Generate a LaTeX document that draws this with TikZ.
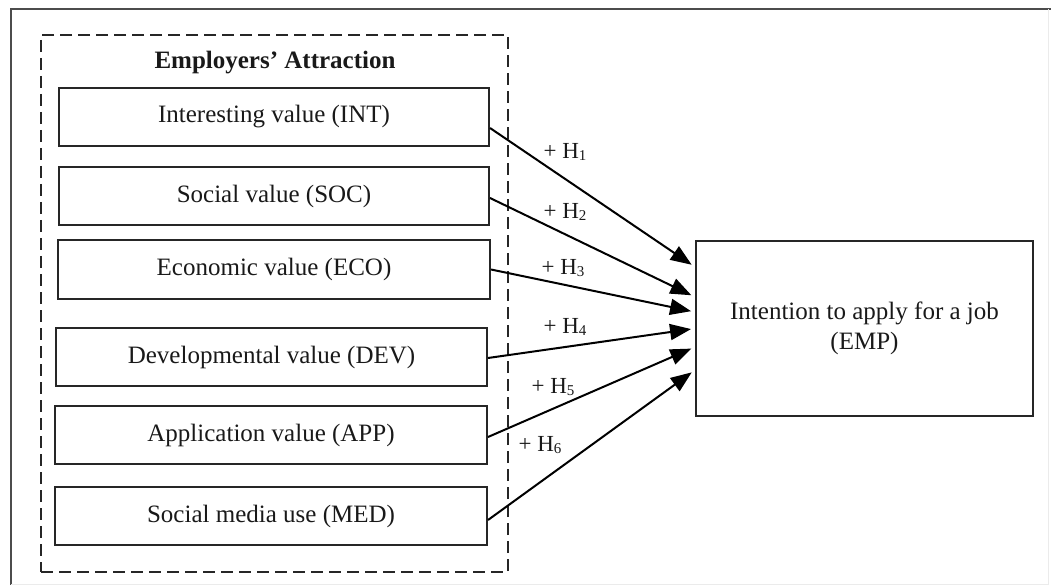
\documentclass[tikz,border=0pt]{standalone}
\usepackage{fontspec}
\setmainfont{Liberation Serif}
\usetikzlibrary{arrows.meta,calc}
\newcommand{\hsub}[1]{\raisebox{-1.5pt}{\fontsize{15}{15}\selectfont #1}}
\begin{document}
\begin{tikzpicture}[x=1pt,y=-1pt,
  box/.style={draw=black!85,line width=2pt,minimum height=58pt,inner sep=0pt,
    text=black!90,font=\fontsize{25}{30}\selectfont},
  grpbox/.style={draw=black!85,line width=1.8pt,dash pattern=on 12pt off 6pt,inner sep=0pt},
  hyp/.style={draw=black,line width=2pt,-{Triangle[length=21pt,width=16pt]},shorten >=4pt},
  hlab/.style={font=\fontsize{23}{27}\selectfont,inner sep=0pt,text=black!90}]
\useasboundingbox (0,0) rectangle (1051,585);
% frame
\draw[black!70,line width=1.6pt] (11,585) -- (11,9) -- (1051,9);
\draw[black!8,line width=1pt] (1048,9) -- (1048,584) -- (11,584);
% group
\node[grpbox,minimum width=467pt,minimum height=537pt] (grp) at (274.5,303.5) {};
\node[font=\fontsize{25}{30}\selectfont\bfseries,text=black!90] (title) at (275,63) {Employers’ Attraction};
% boxes
\node[box,minimum width=430pt] (INT) at (274,117) {Interesting value (INT)};
\node[box,minimum width=430pt] (SOC) at (274,196) {Social value (SOC)};
\node[box,minimum width=432pt,minimum height=59pt] (ECO) at (274,269.5) {Economic value (ECO)};
\node[box,minimum width=431pt] (DEV) at (271.5,357) {Developmental value (DEV)};
\node[box,minimum width=432pt] (APP) at (271,435) {Application value (APP)};
\node[box,minimum width=432pt] (MED) at (271,516) {Social media use (MED)};
\node[box,minimum width=337pt,minimum height=175pt,align=center] (EMP) at (864.5,328.5)
  {Intention to apply for a job\\(EMP)};
% arrows
\draw[hyp] ([yshift=-11pt]INT.east) -- ([yshift=61.5pt]EMP.west);
\draw[hyp] ([yshift=-2pt]SOC.east) -- ([yshift=31.5pt]EMP.west);
\draw[hyp] (ECO.east) -- ([yshift=16.5pt]EMP.west);
\draw[hyp] ([yshift=-1pt]DEV.east) -- (EMP.west);
\draw[hyp] ([yshift=-2pt]APP.east) -- ([yshift=-18.5pt]EMP.west);
\draw[hyp] ([yshift=-4pt]MED.east) -- ([yshift=-41.5pt]EMP.west);
% labels
\node[hlab] (h1) at (565,152) {+ H\hsub{1}};
\node[hlab] (h2) at (565,212) {+ H\hsub{2}};
\node[hlab] (h3) at (563,268) {+ H\hsub{3}};
\node[hlab] (h4) at (565,327) {+ H\hsub{4}};
\node[hlab] (h5) at (553,387) {+ H\hsub{5}};
\node[hlab] (h6) at (540,445) {+ H\hsub{6}};
\end{tikzpicture}
\end{document}
